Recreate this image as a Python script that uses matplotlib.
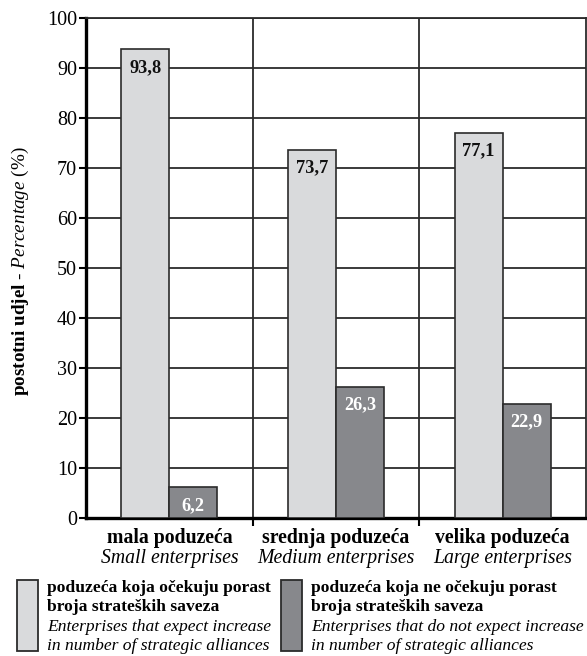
import matplotlib.pyplot as plt
from matplotlib.patches import Rectangle
import numpy as np

plt.rcParams['font.family'] = ['Liberation Serif', 'DejaVu Serif']
plt.rcParams['mathtext.fontset'] = 'custom'
plt.rcParams['mathtext.rm'] = 'Liberation Serif'
plt.rcParams['mathtext.it'] = 'Liberation Serif:italic'
plt.rcParams['mathtext.bf'] = 'Liberation Serif:bold'

categories_hr = ['mala poduzeća', 'srednja poduzeća', 'velika poduzeća']
categories_en = ['Small enterprises', 'Medium enterprises', 'Large enterprises']
expect_increase = [93.8, 73.7, 77.1]
no_increase = [6.2, 26.3, 22.9]
value_labels_a = ['93,8', '73,7', '77,1']
value_labels_b = ['6,2', '26,3', '22,9']

light = '#d9dadc'
dark = '#87888c'
edge = '#2b2b2b'

W, H = 587, 656
fig = plt.figure(figsize=(W / 100, H / 100), dpi=100)
ax = fig.add_axes([86 / W, 1 - 518 / H, 500 / W, 500 / H])

x = np.arange(len(categories_hr))
w = 0.288
ax.bar(x - w / 2, expect_increase, w, color=light, edgecolor=edge, linewidth=1.2, zorder=3)
ax.bar(x + w / 2, no_increase, w, color=dark, edgecolor=edge, linewidth=1.2, zorder=3)

for xi, v, s in zip(x, expect_increase, value_labels_a):
    ax.text(xi - w / 2, v - 3.7, s, ha='center', va='center', fontsize=13.2,
            fontweight='bold', color='#111111', zorder=4)
for xi, v, s in zip(x, no_increase, value_labels_b):
    ax.text(xi + w / 2, v - 3.7, s, ha='center', va='center', fontsize=13.2,
            fontweight='bold', color='white', zorder=4)

ax.set_xlim(-0.5, 2.5)
ax.set_ylim(0, 100)
ax.set_yticks(range(0, 101, 10))
ax.tick_params(axis='y', labelsize=14.5, length=5, width=1.5, direction='out', pad=1.5)

# category boundaries carry the vertical grid lines
ax.set_xticks([0.5, 1.5])
ax.set_xticklabels([])
ax.tick_params(axis='x', length=6, width=1.5, direction='out')
for b in [0.5, 1.5]:
    ax.axvline(b, color=edge, linewidth=1.3, zorder=1)
for yv in range(10, 101, 10):
    ax.axhline(yv, color=edge, linewidth=1.3, zorder=1)

for side in ['top', 'right']:
    ax.spines[side].set_linewidth(1.3)
    ax.spines[side].set_color(edge)
ax.spines['left'].set_linewidth(2.4)
ax.spines['bottom'].set_linewidth(2.4)

for xi, hr, en in zip(x, categories_hr, categories_en):
    ax.text(xi, -4.0, hr, ha='center', va='center', fontsize=14.2, fontweight='bold',
            clip_on=False)
    ax.text(xi, -8.2, en, ha='center', va='center', fontsize=14.2, style='italic',
            clip_on=False)

fig.text(20 / W, 1 - 271 / H,
         r'$\mathbf{postotni\ udjel}$ - $\mathit{Percentage}$ (%)',
         rotation=90, ha='center', va='center', fontsize=13.8)

# legend drawn by hand: tall swatches with four lines of text each
legend_items = [
    (17, light, ['poduzeća koja očekuju porast', 'broja strateških saveza',
                 'Enterprises that expect increase', 'in number of strategic alliances']),
    (281, dark, ['poduzeća koja ne očekuju porast', 'broja strateških saveza',
                 'Enterprises that do not expect increase', 'in number of strategic alliances']),
]
for x0, col, lines in legend_items:
    fig.patches.append(Rectangle((x0 / W, 1 - 651 / H), 21 / W, 71 / H,
                                 transform=fig.transFigure, facecolor=col,
                                 edgecolor=edge, linewidth=1.3))
    for i, line in enumerate(lines):
        yc = [588, 607, 627, 646][i]
        fig.text((x0 + 30) / W, 1 - yc / H, line, ha='left', va='center',
                 fontsize=12.6, fontweight='bold' if i < 2 else 'normal',
                 style='normal' if i < 2 else 'italic')

fig.savefig('out.png', dpi=100)
